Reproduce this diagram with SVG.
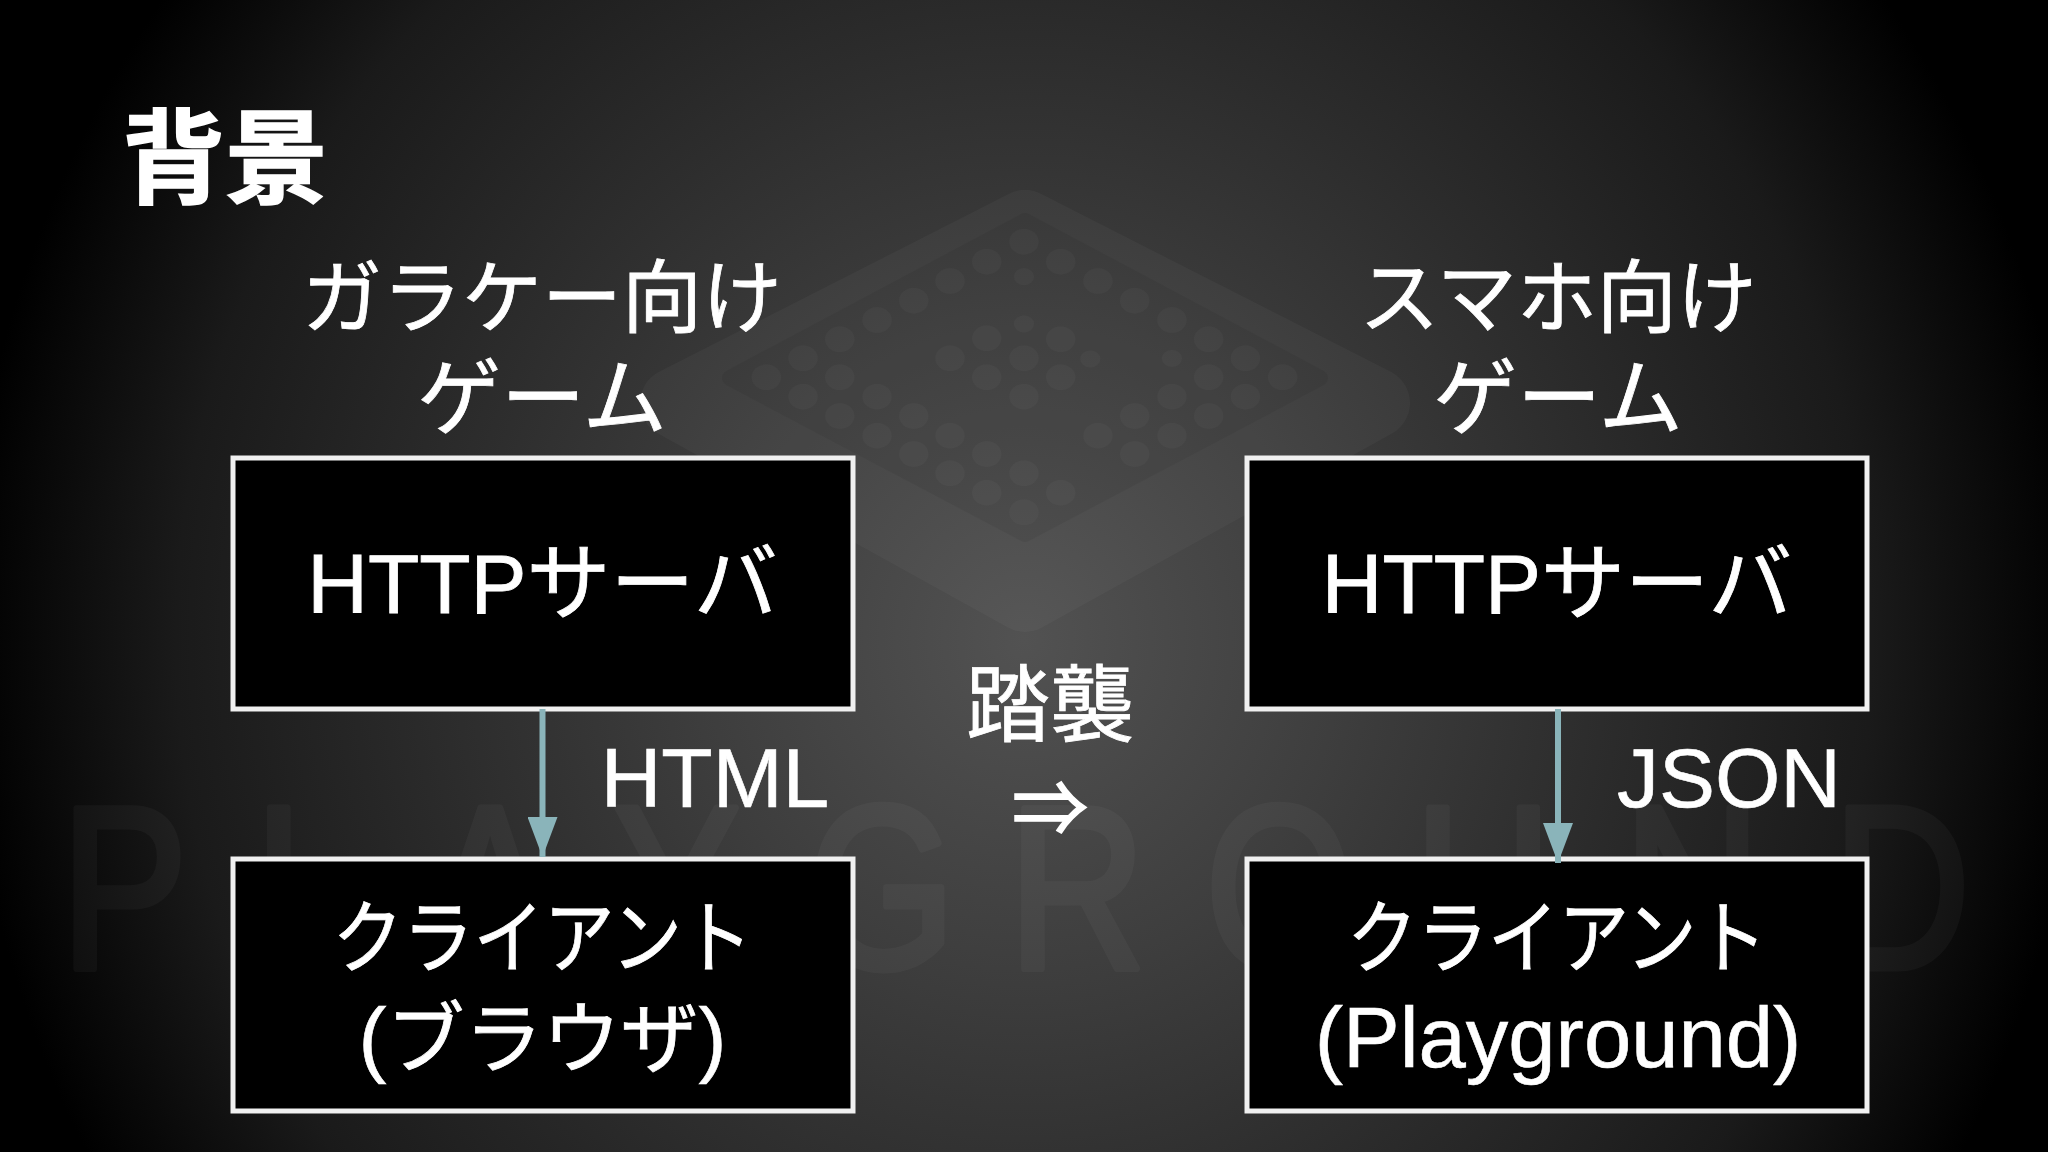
<svg xmlns="http://www.w3.org/2000/svg" width="2048" height="1152" viewBox="0 0 2048 1152">
<defs>
<radialGradient id="bg" gradientUnits="userSpaceOnUse" cx="0" cy="0" r="1" gradientTransform="translate(1024 640) scale(1060 1100)">
<stop offset="0" stop-color="#525252"/><stop offset=".3" stop-color="#3e3e3e"/><stop offset=".55" stop-color="#2c2c2c"/><stop offset=".8" stop-color="#1a1a1a"/><stop offset="1" stop-color="#000"/>
</radialGradient>
<marker id="head" markerUnits="userSpaceOnUse" markerWidth="40" markerHeight="30" refX="40" refY="15" orient="auto" viewBox="0 0 40 30"><path d="M0 0L40 15L0 30Z" fill="#8ab4ba"/></marker>
</defs>
<style>
text{font-family:"Liberation Sans","Noto Sans CJK JP",sans-serif;fill:#fff;font-size:84px;text-anchor:middle}
.lab{font-size:80px;stroke:#fff;stroke-width:.8px}
.cl{font-size:80px;stroke:#fff;stroke-width:.8px}
.box{fill:#000;stroke:#f0f0f0;stroke-width:5}
.conn{stroke:#8ab4ba;stroke-width:6;fill:none}
.wm{font-size:232px;fill:#fff;stroke:#fff;stroke-width:7px;stroke-linejoin:round;opacity:.03;text-anchor:start}
.dots ellipse{fill:#fff;fill-opacity:.028;rx:29px;ry:39px}
</style>
<rect width="2048" height="1152" fill="url(#bg)"/>
<g id="logo">
<polygon points="1025,225 1375,403 1025,597 675,403" fill="#fff" stroke="#fff" opacity=".028" stroke-width="70" stroke-linejoin="round"/>
<polygon points="1025,221 1320,378 1025,534 730,378" fill="#000" stroke="#000" opacity=".05" stroke-width="16" stroke-linejoin="round"/>
<g class="dots" transform="translate(650 170) scale(.5102 .3333)">
<ellipse cx="733" cy="215"/><ellipse cx="660" cy="275"/><ellipse cx="805" cy="275"/><ellipse cx="733" cy="320" style="rx:20px;ry:26px"/><ellipse cx="588" cy="333"/><ellipse cx="878" cy="333"/><ellipse cx="517" cy="392"/><ellipse cx="950" cy="392"/><ellipse cx="445" cy="450"/><ellipse cx="733" cy="462" style="rx:20px;ry:26px"/><ellipse cx="1023" cy="450"/><ellipse cx="372" cy="508"/><ellipse cx="660" cy="505"/><ellipse cx="805" cy="508"/><ellipse cx="1095" cy="508"/><ellipse cx="300" cy="565"/><ellipse cx="588" cy="565"/><ellipse cx="733" cy="565"/><ellipse cx="863" cy="567" style="rx:20px;ry:26px"/><ellipse cx="1023" cy="565" style="rx:20px;ry:26px"/><ellipse cx="1167" cy="565"/><ellipse cx="228" cy="622"/><ellipse cx="372" cy="622"/><ellipse cx="660" cy="622"/><ellipse cx="805" cy="622"/><ellipse cx="1095" cy="622"/><ellipse cx="1240" cy="622"/><ellipse cx="300" cy="680"/><ellipse cx="445" cy="680"/><ellipse cx="733" cy="680"/><ellipse cx="1023" cy="680"/><ellipse cx="1167" cy="680"/><ellipse cx="372" cy="738"/><ellipse cx="517" cy="738"/><ellipse cx="950" cy="738"/><ellipse cx="1095" cy="738"/><ellipse cx="445" cy="797"/><ellipse cx="588" cy="797"/><ellipse cx="878" cy="797"/><ellipse cx="1023" cy="797"/><ellipse cx="517" cy="852"/><ellipse cx="660" cy="852"/><ellipse cx="950" cy="852"/><ellipse cx="588" cy="910"/><ellipse cx="733" cy="910"/><ellipse cx="660" cy="968"/><ellipse cx="805" cy="968"/><ellipse cx="733" cy="1027"/>
</g>
</g>
<text class="wm" transform="scale(.82 1)" x="74 310 520 748 985 1230 1470 1725 1980 2235" y="968">PLAYGROUND</text>
<text id="title" x="225" y="196" style="font-size:103px;font-weight:700;stroke:#fff;stroke-width:1.5px">背景</text>
<g id="label-left"><text class="lab" x="542" y="326">ガラケー向け</text><text class="lab" x="542" y="428" style="font-size:84px">ゲーム</text></g>
<g id="label-right"><text class="lab" x="1558" y="326">スマホ向け</text><text class="lab" x="1558" y="428" style="font-size:84px">ゲーム</text></g>
<g id="server-left"><rect class="box" x="233" y="458" width="620" height="251"/><text x="542.5" y="613" stroke="#fff" stroke-width=".8">HTTPサーバ</text></g>
<g id="client-left"><rect class="box" x="233" y="859" width="620" height="252"/><text class="cl" x="542.5" y="966" textLength="420" lengthAdjust="spacingAndGlyphs">クライアント</text><text x="542.5" y="1067" stroke="#fff" stroke-width=".6">(<tspan class="cl" style="font-size:78px">ブラウザ</tspan>)</text></g>
<g id="server-right"><rect class="box" x="1247" y="458" width="620" height="251"/><text x="1557" y="613" stroke="#fff" stroke-width=".8">HTTPサーバ</text></g>
<g id="client-right"><rect class="box" x="1247" y="859" width="620" height="252"/><text class="cl" x="1557" y="966" textLength="420" lengthAdjust="spacingAndGlyphs">クライアント</text><text x="1558" y="1067" stroke="#fff" stroke-width=".6" style="font-size:85px">(Playground)</text></g>
<g id="connectors">
<line class="conn" x1="542.5" y1="709" x2="542.5" y2="857" marker-end="url(#head)"/>
<line class="conn" x1="1558" y1="709" x2="1558" y2="863" marker-end="url(#head)"/>
</g>
<text x="715" y="807" stroke="#fff" stroke-width=".6">HTML</text>
<text x="1729" y="807" stroke="#fff" stroke-width=".6">JSON</text>
<text x="1050" y="735" stroke="#fff" stroke-width=".8">踏襲</text>
<text x="1050" y="836" stroke="#fff" stroke-width="1.5" style="font-size:76px">⇒</text>
</svg>
